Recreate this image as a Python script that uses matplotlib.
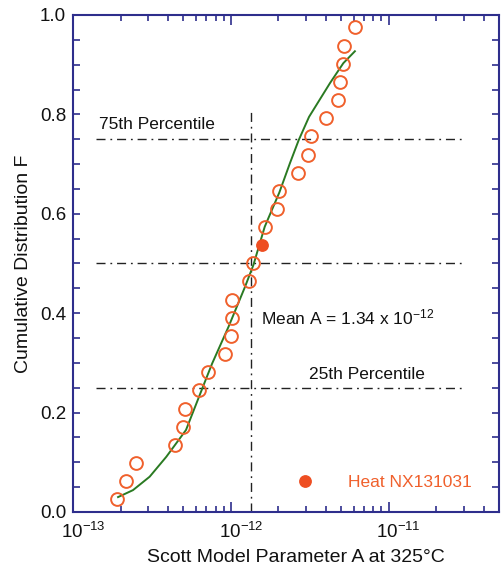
import matplotlib
matplotlib.use("Agg")
import matplotlib.pyplot as plt
from matplotlib.lines import Line2D
from matplotlib.ticker import FixedLocator, MultipleLocator, FormatStrFormatter, LogLocator, NullFormatter
from matplotlib.transforms import ScaledTranslation

plt.rcParams["font.family"] = ["Liberation Sans", "DejaVu Sans"]
plt.rcParams["mathtext.fontset"] = "custom"
plt.rcParams["mathtext.rm"] = "Liberation Sans"
plt.rcParams["mathtext.it"] = "Liberation Sans:italic"
plt.rcParams["mathtext.bf"] = "Liberation Sans:bold"

# Scott model parameter A for each heat, with its median-rank cumulative value
A_heats = [1.91e-13, 2.17e-13, 2.52e-13, 4.46e-13, 4.98e-13, 5.16e-13, 6.25e-13,
           7.19e-13, 9.16e-13, 9.97e-13, 1.015e-12, 1.02e-12, 1.30e-12, 1.39e-12,
           1.65e-12, 1.95e-12, 2.03e-12, 2.67e-12, 3.07e-12, 3.23e-12, 4.00e-12,
           4.75e-12, 4.93e-12, 5.12e-12, 5.24e-12, 6.10e-12]
F_heats = [0.026, 0.062, 0.099, 0.135, 0.172, 0.208, 0.245, 0.281, 0.318, 0.354,
           0.391, 0.427, 0.464, 0.500, 0.573, 0.610, 0.646, 0.683, 0.719, 0.756,
           0.792, 0.829, 0.865, 0.902, 0.938, 0.975]

# Highlighted heat
A_nx = [1.58e-12]
F_nx = [0.537]

# Fitted distribution curve
A_fit = [1.93e-13, 2.40e-13, 3.06e-13, 3.90e-13, 5.20e-13, 6.93e-13, 7.62e-13,
         9.68e-13, 1.23e-12, 1.39e-12, 1.64e-12, 2.03e-12, 2.37e-12, 2.69e-12,
         3.13e-12, 4.25e-12, 5.16e-12, 6.11e-12]
F_fit = [0.030, 0.044, 0.071, 0.111, 0.165, 0.266, 0.299, 0.373, 0.453, 0.497,
         0.574, 0.643, 0.702, 0.748, 0.795, 0.863, 0.903, 0.927]

mean_A = 1.34e-12
percentiles = [0.25, 0.50, 0.75]
pct_span = [1.4e-13, 3.0e-11]
mean_span = [0.0, 0.81]

x_ticks = [1e-13, 1e-12, 1e-11]
x_tick_labels = ["$10^{-13}$", "$10^{-12}$", "$10^{-11}$"]

navy = "#2e2e8c"
orange = "#f0602c"
dashdot = (0, (6.5, 3.5, 1.3, 3.5))

fig = plt.figure(figsize=(5.02, 5.78), dpi=100)
ax = fig.add_axes([0.1454, 0.1142, 0.8486, 0.8599])

ax.set_xscale("log")
ax.set_xlim(1e-13, 5e-11)
ax.set_ylim(0.0, 1.0)

for p in percentiles:
    ax.plot(pct_span, [p, p], color="#222222", lw=1.0, linestyle=dashdot)
ax.plot([mean_A, mean_A], mean_span, color="#222222", lw=1.0, linestyle=dashdot)

ax.plot(A_fit, F_fit, color="#2a7a22", lw=1.4, zorder=3)
ax.plot(A_heats, F_heats, linestyle="none", marker="o", markersize=9.2,
        markerfacecolor="none", markeredgecolor=orange, markeredgewidth=1.4, zorder=4)
ax.plot(A_nx, F_nx, linestyle="none", marker="o", markersize=8.2,
        markerfacecolor="#ee4e22", markeredgecolor="#ee4e22", zorder=5)

ax.text(1.46e-13, 0.770, "75th Percentile", fontsize=12.5, color="#111111")
ax.text(3.13e-12, 0.267, "25th Percentile", fontsize=12.5, color="#111111")
ax.text(1.56e-12, 0.378, "Mean A = 1.34 x 10$^{-12}$", fontsize=12.5, color="#111111")

handle = Line2D([], [], linestyle="none", marker="o", markersize=8.2,
                markerfacecolor="#ee4e22", markeredgecolor="#ee4e22")
leg = ax.legend([handle], ["Heat NX131031"], loc="center left",
                bbox_to_anchor=(0.504, 0.059), frameon=False, fontsize=12.5,
                handlelength=2.0, handletextpad=1.5, borderpad=0, borderaxespad=0)
for t in leg.get_texts():
    t.set_color(orange)

# Axes frame and ticks
for s in ax.spines.values():
    s.set_color(navy)
    s.set_linewidth(1.5)

ax.xaxis.set_major_locator(FixedLocator(x_ticks))
ax.set_xticklabels(x_tick_labels)
ax.xaxis.set_minor_locator(LogLocator(base=10, subs=range(2, 10), numticks=20))
ax.xaxis.set_minor_formatter(NullFormatter())
ax.yaxis.set_major_locator(MultipleLocator(0.2))
ax.yaxis.set_minor_locator(MultipleLocator(0.05))
ax.yaxis.set_major_formatter(FormatStrFormatter("%.1f"))

ax.tick_params(axis="both", which="both", direction="in", top=True, right=True,
               color=navy, width=1.2, labelsize=13.5, labelcolor="#111111")
ax.tick_params(axis="x", which="major", length=7, pad=7)
ax.tick_params(axis="x", which="minor", length=4.5)
ax.tick_params(axis="y", which="both", length=5, pad=5)

# keep the base "10" centred on its tick, exponent to the right
shift = ScaledTranslation(10 / 100, 0, fig.dpi_scale_trans)
for lab in ax.get_xticklabels():
    lab.set_transform(lab.get_transform() + shift)

ax.set_xlabel("Scott Model Parameter A at 325\u00b0C", fontsize=14, color="#111111")
ax.set_ylabel("Cumulative Distribution F", fontsize=14, color="#111111")
ax.xaxis.set_label_coords(0.523, -0.074)
ax.yaxis.set_label_coords(-0.096, 0.5)

fig.savefig("out.png", dpi=100)
